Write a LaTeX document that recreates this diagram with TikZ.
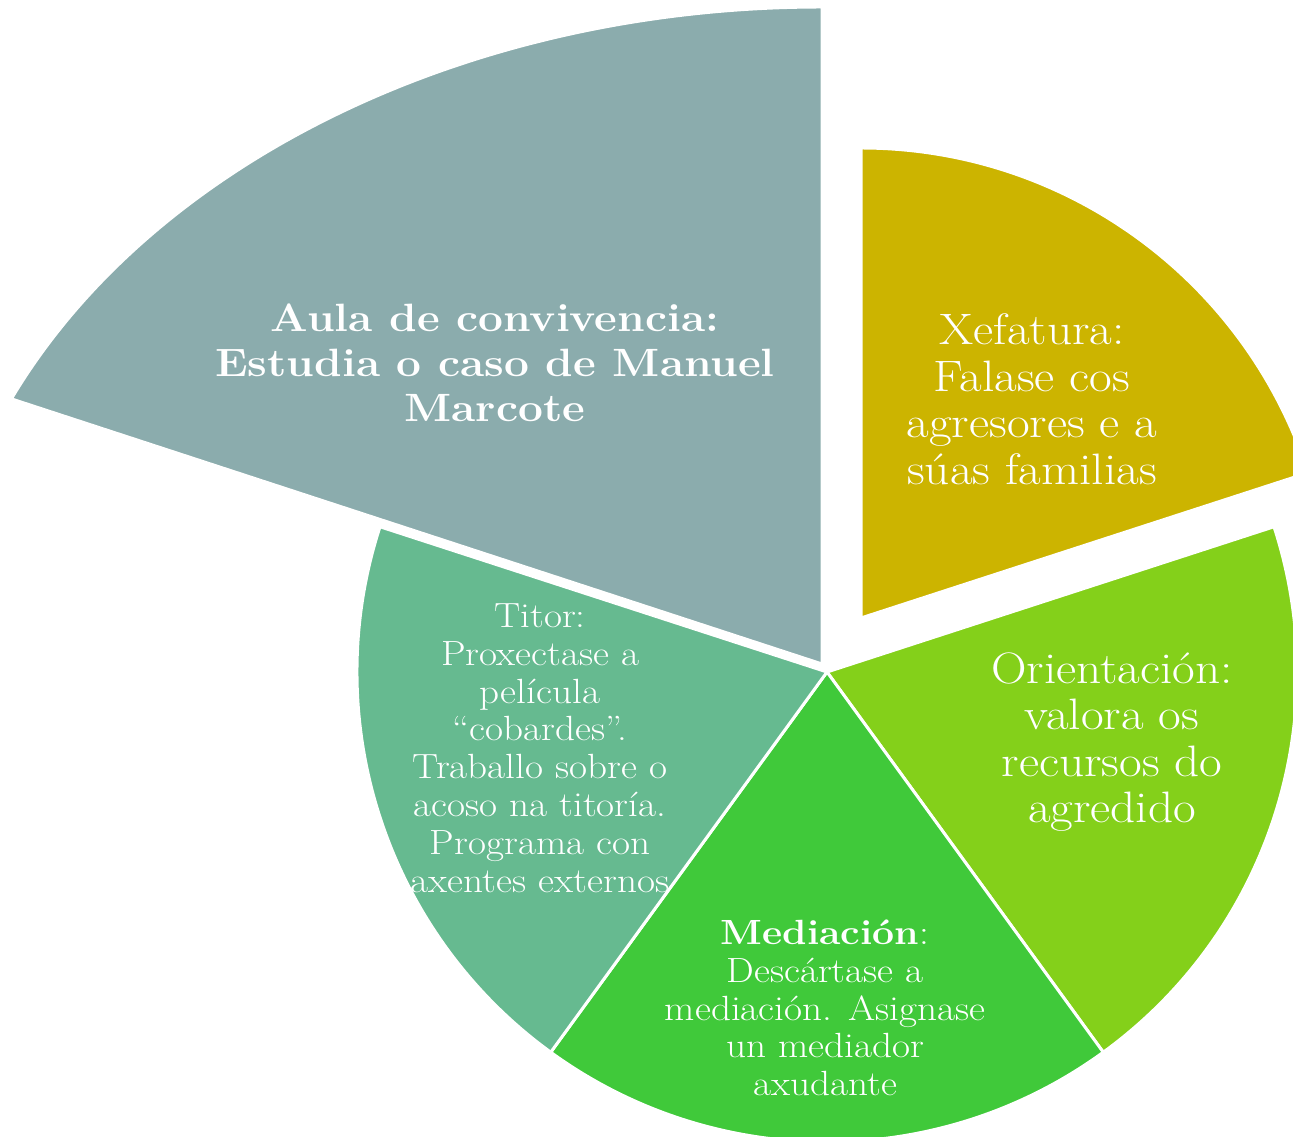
\documentclass[tikz,border=0pt]{standalone}
\usepackage{fontspec}
\setmainfont{Latin Modern Roman}[FakeStretch=1.12]
\definecolor{cgray}{RGB}{139,172,173}
\definecolor{cgold}{RGB}{204,180,0}
\definecolor{corient}{RGB}{132,208,26}
\definecolor{cmedia}{RGB}{64,201,58}
\definecolor{ctitor}{RGB}{102,186,144}
\tikzset{
  sector/.style={draw=white, line width=3pt, line join=miter},
  lbl/.style={text=white, align=center, inner sep=0pt},
  bigtxt/.style={lbl, font=\fontsize{44}{46.5}\selectfont},
  boldtxt/.style={lbl, font=\fontsize{39.5}{45}\selectfont\bfseries},
  smalltxt/.style={lbl, font=\fontsize{35}{37.8}\selectfont},
}
\begin{document}
\begin{tikzpicture}[x=1pt,y=1pt]
\useasboundingbox (0,0) rectangle (1293,1137);
\clip (0,0) rectangle (1293,1137);
\coordinate (C) at (827,465);
\coordinate (GA) at (822,473);
\coordinate (XA) at (861,519);
% sectors
\fill[cgray, sector] (GA) -- ++(0,657) arc[start angle=90, end angle=156.2, x radius=886, y radius=657] -- cycle;
\fill[cgold, sector] (XA) -- ++(90:470) arc[start angle=90, end angle=18, radius=470] -- cycle;
\fill[corient, sector] (C) -- ++(18:470) arc[start angle=18, end angle=-54, radius=470] -- cycle;
\fill[cmedia, sector] (C) -- ++(-54:470) arc[start angle=-54, end angle=-126, radius=470] -- cycle;
\fill[ctitor, sector] (C) -- ++(-126:470) arc[start angle=-126, end angle=-198, radius=470] -- cycle;
% labels
\node[boldtxt] (aula) at (495,774) {Aula de convivencia:\\Estudia o caso de Manuel\\Marcote};
\node[bigtxt] (xef) at (1032,738) {Xefatura:\\Falase cos\\agresores e a\\súas familias};
\node[bigtxt] (ori) at (1112,395) {Orientación:\\valora os\\recursos do\\agredido};
\node[smalltxt] (tit) at (540,389) {Titor:\\Proxectase a\\película\\“cobardes”.\\Traballo sobre o\\acoso na titoría.\\Programa con\\axentes externos};
\node[smalltxt] (med) at (825,129) {\textbf{Mediación}:\\Descártase a\\mediación. Asignase\\un mediador\\axudante};
\end{tikzpicture}
\end{document}
